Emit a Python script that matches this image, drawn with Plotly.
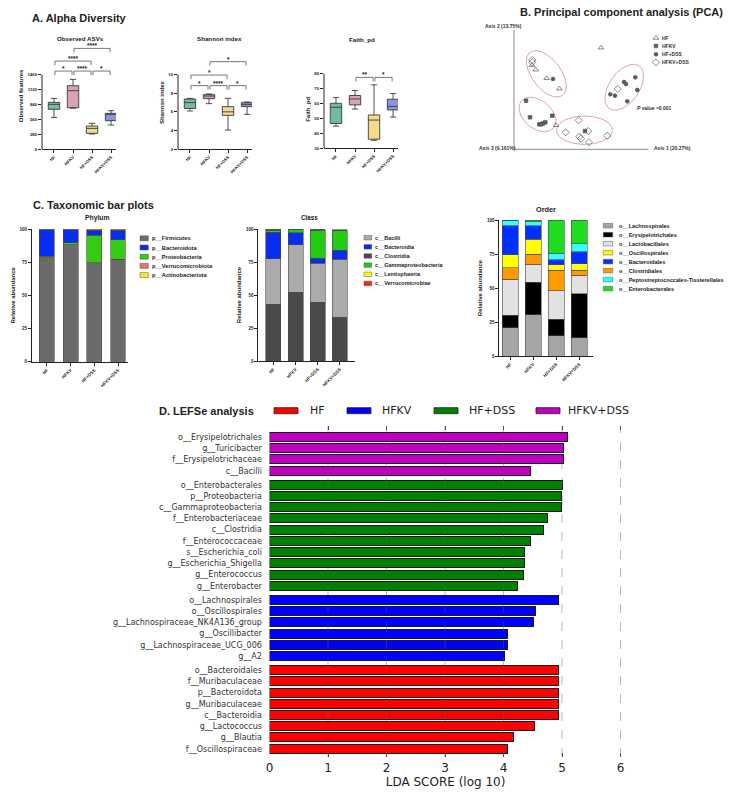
import numpy as np
import plotly.graph_objects as go

W, H = 750, 793
ARIAL = "Liberation Sans"
DEJAVU = "DejaVu Sans"


def fx(p):
    return p / W


def fy(p):
    return 1 - p / H


# ---------------------------------------------------------------- data
groups = ["HF", "HFKV", "HF+DSS", "HFKV+DSS"]

# A. alpha diversity box statistics
observed_min = [596, 770, 283, 452]
observed_q1 = [747, 778, 295, 534]
observed_median = [841, 1099, 389, 659]
observed_q3 = [879, 1193, 433, 672]
observed_max = [954, 1312, 483, 722]

shannon_min = [6.09, 6.88, 4.04, 5.73]
shannon_q1 = [6.36, 7.42, 5.62, 6.56]
shannon_median = [7.0, 7.7, 6.0, 6.8]
shannon_q3 = [7.38, 7.85, 6.56, 6.99]
shannon_max = [7.45, 7.92, 7.45, 7.06]

faith_min = [44.7, 56.2, 35.2, 50.8]
faith_q1 = [46.5, 59.0, 35.9, 55.6]
faith_median = [57.4, 63.0, 48.8, 58.0]
faith_q3 = [60.1, 65.3, 52.2, 62.8]
faith_max = [63.9, 68.7, 72.5, 66.6]

observed_sig_a = ["HF", "HFKV", "HF+DSS", "HF", "HFKV"]
observed_sig_b = ["HFKV", "HF+DSS", "HFKV+DSS", "HF+DSS", "HFKV+DSS"]
observed_sig_label = ["*", "****", "*", "****", "****"]
observed_sig_y = [1469, 1469, 1469, 1657, 1896]

shannon_sig_a = ["HF", "HFKV", "HF+DSS", "HF", "HFKV"]
shannon_sig_b = ["HFKV", "HF+DSS", "HFKV+DSS", "HF+DSS", "HFKV+DSS"]
shannon_sig_label = ["*", "****", "*", "*", "*"]
shannon_sig_y = [8.82, 8.82, 8.82, 9.96, 11.4]

faith_sig_a = ["HFKV", "HF+DSS"]
faith_sig_b = ["HF+DSS", "HFKV+DSS"]
faith_sig_label = ["**", "*"]
faith_sig_y = [77.5, 77.5]

# B. PCA coordinates (axis units)
pca_hf_x = [0.87, 0.18, 0.217, 0.327, 0.453, 0.42]
pca_hf_y = [1.016, 0.84, 0.796, 0.71, 0.606, 0.24]
pca_hfkv_x = [0.12, 0.16, 0.253, 0.273, 0.293, 0.313, 0.383, 0.71]
pca_hfkv_y = [0.486, 0.32, 0.25, 0.25, 0.26, 0.27, 0.336, 0.183]
pca_hfdss_x = [0.39, 0.963, 1.01, 1.10, 1.12, 1.213, 1.233, 1.133]
pca_hfdss_y = [0.703, 0.55, 0.536, 0.673, 0.653, 0.72, 0.593, 0.48]
pca_hfkvdss_x = [0.183, 0.183, 1.037, 0.647, 0.517, 0.653, 0.67, 0.743, 0.75, 0.933]
pca_hfkvdss_y = [0.893, 0.87, 0.603, 0.29, 0.17, 0.126, 0.106, 0.183, 0.07, 0.136]
pca_ellipse_cx = [0.323, 0.235, 0.705, 1.103]
pca_ellipse_cy = [0.755, 0.348, 0.191, 0.621]
pca_ellipse_a = [0.27, 0.21, 0.28, 0.26]
pca_ellipse_b = [0.145, 0.14, 0.142, 0.15]
pca_ellipse_angle = [-53, -40, 0, 55]
pca_axis_labels = ["Axis 1 (20.27%)", "Axis 2 (13.75%)", "Axis 3 (9.161%)"]

# C. taxonomic composition (%)
phylum_names = ["p__Firmicutes", "p__Bacteroidota", "p__Proteobacteria",
                "p__Verrucomicrobiota", "p__Actinobacteriota"]
phylum_firmicutes = [77.5, 88.0, 74.5, 77.0]
phylum_bacteroidota = [20.2, 9.5, 4.0, 7.2]
phylum_proteobacteria = [0.8, 1.5, 20.5, 14.8]
phylum_verrucomicrobiota = [1.0, 0.3, 0.2, 0.2]
phylum_actinobacteriota = [0.5, 0.7, 0.8, 0.8]

class_names = ["c__Bacilli", "c__Bacteroidia", "c__Clostridia",
               "c__Gammaproteobacteria", "c__Lentisphaeria", "c__Verrucomicrobiae"]
class_bacilli = [34.5, 36.0, 29.5, 44.0]
class_bacteroidia = [20.0, 9.0, 4.0, 7.0]
class_clostridia = [43.0, 52.0, 44.5, 33.0]
class_gammaproteobacteria = [1.5, 2.5, 21.0, 15.0]
class_lentisphaeria = [0.3, 0.2, 0.3, 0.2]
class_verrucomicrobiae = [0.7, 0.3, 0.2, 0.2]

order_names = ["o__Lachnospirales", "o__Erysipelotrichales", "o__Lactobacillales",
               "o__Oscillospirales", "o__Bacteroidales", "o__Clostridiales",
               "o__Peptostreptococcales-Tissierellales", "o__Enterobacterales"]
order_lachnospirales = [20.6, 30.4, 15.0, 13.5]
order_erysipelotrichales = [9.3, 23.8, 12.0, 32.3]
order_lactobacillales = [26.7, 13.2, 21.0, 13.5]
order_oscillospirales = [9.3, 11.0, 4.0, 5.0]
order_bacteroidales = [21.5, 9.8, 3.6, 8.5]
order_clostridiales = [8.4, 7.4, 15.0, 3.7]
order_peptostreptococcales = [4.2, 3.2, 4.9, 5.9]
order_enterobacterales = [0.0, 1.2, 24.5, 17.6]

# D. LEfSe
lefse_groups = ["HF", "HFKV", "HF+DSS", "HFKV+DSS"]
lefse_hfkvdss_features = ["o__Erysipelotrichales", "g__Turicibacter",
                          "f__Erysipelotrichaceae", "c__Bacilli"]
lefse_hfkvdss_lda = [5.09, 5.02, 5.02, 4.46]
lefse_hfdss_features = ["o__Enterobacterales", "p__Proteobacteria", "c__Gammaproteobacteria",
                        "f__Enterobacteriaceae", "c__Clostridia", "f__Enterococcaceae",
                        "s__Escherichia_coli", "g__Escherichia_Shigella",
                        "g__Enterococcus", "g__Enterobacter"]
lefse_hfdss_lda = [5.01, 4.99, 4.99, 4.75, 4.68, 4.46, 4.36, 4.36, 4.34, 4.24]
lefse_hfkv_features = ["o__Lachnospirales", "o__Oscillospirales",
                       "g__Lachnospiraceae_NK4A136_group", "g__Oscillibacter",
                       "g__Lachnospiraceae_UCG_006", "g__A2"]
lefse_hfkv_lda = [4.94, 4.54, 4.51, 4.07, 4.06, 4.02]
lefse_hf_features = ["o__Bacteroidales", "f__Muribaculaceae", "p__Bacteroidota",
                     "g__Muribaculaceae", "c__Bacteroidia", "g__Lactococcus",
                     "g__Blautia", "f__Oscillospiraceae"]
lefse_hf_lda = [4.94, 4.94, 4.94, 4.94, 4.94, 4.53, 4.17, 4.07]
lda_ticks = [0, 1, 2, 3, 4, 5, 6]

# ---------------------------------------------------------------- styles
box_fill = ["#73b9a7", "#d9a2b9", "#f2da8c", "#8c96d6"]
phylum_colors = ["#6b6b6b", "#0a2cf0", "#33cc11", "#f07070", "#f5f010"]
class_colors = ["#ababab", "#0a2cf0", "#4a4a4a", "#22cc11", "#ffff00", "#ff2222"]
order_colors = ["#a5a5a5", "#000000", "#e2e2e2", "#ffff00", "#0030ff", "#ff9a00",
                "#33ffff", "#1fdc1f"]
lefse_colors = {"HF": "#ff0000", "HFKV": "#0000ff", "HF+DSS": "#008000", "HFKV+DSS": "#c000c0"}
pca_symbols = ["triangle-up-open", "square", "circle", "diamond-open"]
pca_sizes = [5, 3.6, 3.8, 5.5]
ell_color = "#e3a3a3"
INK = "#222222"

fig = go.Figure()
layout = {}
annotations = []
shapes = []


def note(x, y, s, size, family=ARIAL, bold=True, xanchor="center", yanchor="middle",
         color=INK, angle=0):
    annotations.append(dict(x=fx(x), y=fy(y), xref="paper", yref="paper", text=s,
                            showarrow=False, xanchor=xanchor, yanchor=yanchor, textangle=angle,
                            font=dict(family=family, size=size, color=color,
                                      weight="bold" if bold else "normal")))


def axid(n):
    return "" if n == 1 else str(n)


def tickfont(size=4.3):
    return dict(family=ARIAL, size=size, color=INK, weight="bold")


# ---------------------------------------------------------------- A. box plots
box_panels = [
    dict(n=1, stats=(observed_min, observed_q1, observed_median, observed_q3, observed_max),
         xdom=(42, 116), ydom=(42.9, 149), yrange=(0, 2000),
         ticks=[0, 280, 560, 840, 1120, 1400], title="Observed ASVs", txy=(80, 38.3),
         ytitle="Observed features",
         sig=(observed_sig_a, observed_sig_b, observed_sig_label, observed_sig_y)),
    dict(n=2, stats=(shannon_min, shannon_q1, shannon_median, shannon_q3, shannon_max),
         xdom=(178, 252), ydom=(56.1, 149), yrange=(2, 12),
         ticks=[2, 4, 6, 8, 10], title="Shannon index", txy=(219, 38.3),
         ytitle="Shannon index",
         sig=(shannon_sig_a, shannon_sig_b, shannon_sig_label, shannon_sig_y)),
    dict(n=3, stats=(faith_min, faith_q1, faith_median, faith_q3, faith_max),
         xdom=(324, 398), ydom=(70.7, 148), yrange=(30, 82),
         ticks=[30, 40, 50, 60, 70, 80], title="Faith_pd", txy=(362, 39.5),
         ytitle="Faith_pd",
         sig=(faith_sig_a, faith_sig_b, faith_sig_label, faith_sig_y)),
]

for p in box_panels:
    a = axid(p["n"])
    vmin, q1, med, q3, vmax = p["stats"]
    for i, g in enumerate(groups):
        fig.add_trace(go.Box(x=[g], q1=[q1[i]], median=[med[i]], q3=[q3[i]],
                             lowerfence=[vmin[i]], upperfence=[vmax[i]],
                             fillcolor=box_fill[i], line=dict(color="#3a3a3a", width=0.9),
                             width=0.6, whiskerwidth=0.55, boxpoints=False,
                             xaxis="x" + a, yaxis="y" + a, showlegend=False, hoverinfo="skip"))
    layout["xaxis" + a] = dict(
        domain=[fx(p["xdom"][0]), fx(p["xdom"][1])], anchor="y" + a, type="category",
        categoryorder="array", categoryarray=groups, range=[-0.63, 3.26],
        showline=True, linecolor=INK, linewidth=1, ticks="outside", ticklen=3,
        tickwidth=1, tickcolor=INK, tickangle=-45, tickfont=tickfont(4.3),
        showgrid=False, zeroline=False, automargin=False)
    layout["yaxis" + a] = dict(
        domain=[fy(p["ydom"][1]), fy(p["ydom"][0])], anchor="x" + a,
        range=list(p["yrange"]), tickvals=p["ticks"], showline=False, ticks="outside",
        ticklen=3, tickwidth=1, tickcolor=INK, tickfont=tickfont(4.3),
        title=dict(text=p["ytitle"], font=dict(family=ARIAL, size=6, color=INK, weight="bold"),
                   standoff=3),
        showgrid=False, zeroline=False, automargin=False)
    shapes.append(dict(type="line", xref="x" + a + " domain", yref="y" + a, x0=0, x1=0,
                       y0=p["yrange"][0], y1=p["ticks"][-1], line=dict(color=INK, width=1)))
    note(p["txy"][0], p["txy"][1], p["title"], 6.2)
    # significance brackets
    px_per_unit = (p["ydom"][1] - p["ydom"][0]) / (p["yrange"][1] - p["yrange"][0])
    drop = 4 / px_per_unit
    sa, sb, sl, sy = p["sig"]
    for g1, g2, lab, yv in zip(sa, sb, sl, sy):
        i1, i2 = groups.index(g1), groups.index(g2)
        x0, x1 = i1 + 0.05, i2 - 0.05
        shapes.append(dict(type="path", xref="x" + a, yref="y" + a,
                           path=f"M {x0},{yv - drop} L {x0},{yv} L {x1},{yv} L {x1},{yv - drop}",
                           line=dict(color="#555555", width=0.8)))
        annotations.append(dict(x=(i1 + i2) / 2, y=yv, xref="x" + a, yref="y" + a, text=lab,
                                showarrow=False, yanchor="bottom", yshift=-3,
                                font=dict(family=ARIAL, size=6.5, color=INK, weight="bold")))

note(30, 18, "A. Alpha Diversity", 11, xanchor="left")

# ---------------------------------------------------------------- B. PCA
pca_series = [(pca_hf_x, pca_hf_y), (pca_hfkv_x, pca_hfkv_y),
              (pca_hfdss_x, pca_hfdss_y), (pca_hfkvdss_x, pca_hfkvdss_y)]
t = np.linspace(0, 2 * np.pi, 120)
for cx, cy, ea, eb, ang in zip(pca_ellipse_cx, pca_ellipse_cy, pca_ellipse_a,
                               pca_ellipse_b, pca_ellipse_angle):
    th = np.deg2rad(ang)
    ex = cx + ea * np.cos(t) * np.cos(th) - eb * np.sin(t) * np.sin(th)
    ey = cy + ea * np.cos(t) * np.sin(th) + eb * np.sin(t) * np.cos(th)
    fig.add_trace(go.Scatter(x=ex, y=ey, mode="lines", line=dict(color=ell_color, width=1),
                             xaxis="x4", yaxis="y4", showlegend=False, hoverinfo="skip"))
for (sx, sy), sym, sz in zip(pca_series, pca_symbols, pca_sizes):
    fig.add_trace(go.Scatter(x=sx, y=sy, mode="markers",
                             marker=dict(symbol=sym, size=sz, color="#5a5a5a",
                                         line=dict(width=0.7, color="#5a5a5a")),
                             xaxis="x4", yaxis="y4", showlegend=False, hoverinfo="skip"))
# PCA axes: 1 unit = 100 px, origin at (514, 149.3)
PCA_X0, PCA_Y0 = 514, 149.3
layout["xaxis4"] = dict(domain=[fx(512), fx(700)], anchor="y4",
                        range=[-0.02, (700 - PCA_X0) / 100], visible=False)
layout["yaxis4"] = dict(domain=[fy(151.3), fy(20)], anchor="x4",
                        range=[-0.02, (PCA_Y0 - 20) / 100], visible=False)
shapes.append(dict(type="line", xref="x4", yref="y4", x0=0, x1=0, y0=0,
                   y1=(PCA_Y0 - 30) / 100, line=dict(color="#8a8a8a", width=1)))
shapes.append(dict(type="line", xref="x4", yref="y4", x0=0, x1=(648.3 - PCA_X0) / 100,
                   y0=0, y1=0, line=dict(color="#8a8a8a", width=1)))
# legend
leg_rows = [38, 46, 54.3, 62.3]
for g, sym, sz, ry in zip(groups, pca_symbols, pca_sizes, leg_rows):
    fig.add_trace(go.Scatter(x=[(656 - PCA_X0) / 100], y=[(PCA_Y0 - ry) / 100], mode="markers",
                             marker=dict(symbol=sym, size=sz, color="#5a5a5a",
                                         line=dict(width=0.7, color="#5a5a5a")),
                             xaxis="x4", yaxis="y4", showlegend=False, hoverinfo="skip"))
    note(660, ry, g, 5, xanchor="left", color="#333333")
note(482.7, 26, pca_axis_labels[1], 5, xanchor="left", color="#333333")
note(477, 147.7, pca_axis_labels[2], 5, xanchor="left", color="#333333")
note(651.7, 147.7, pca_axis_labels[0], 5, xanchor="left", color="#333333")
note(635, 108, "<i>P</i> value =0.001", 5, xanchor="left", color="#333333")
note(518, 12, "B. Principal component analysis (PCA)", 11, xanchor="left")

# ---------------------------------------------------------------- C. stacked bars
note(30.7, 204.5, "C. Taxonomic bar plots", 11, xanchor="left")

bar_panels = [
    dict(n=5, series=[phylum_firmicutes, phylum_verrucomicrobiota, phylum_proteobacteria,
                      phylum_bacteroidota, phylum_actinobacteriota],
         colors=[phylum_colors[0], phylum_colors[3], phylum_colors[2], phylum_colors[1],
                 phylum_colors[4]],
         width=0.63, xdom=(32, 127.5), xrange=[-0.63, 3.4], ydom=(229, 361.7),
         title="Phylum", txy=(97.5, 218.3), tsize=6.8,
         legend=(phylum_names, phylum_colors), leg=dict(xs=140, w=8.3, h=5, y0=238.3, dy=9.2,
                                                        xt=150, size=5.7)),
    dict(n=6, series=[class_clostridia, class_bacilli, class_bacteroidia,
                      class_gammaproteobacteria, class_lentisphaeria, class_verrucomicrobiae],
         colors=[class_colors[2], class_colors[0], class_colors[1], class_colors[3],
                 class_colors[4], class_colors[5]],
         width=0.68, xdom=(258.3, 355), xrange=[-0.68, 3.68], ydom=(229, 361),
         title="Class", txy=(309.5, 217.7), tsize=6.3,
         legend=(class_names, class_colors), leg=dict(xs=364, w=7.7, h=4.5, y0=237.7, dy=9.15,
                                                      xt=373.3, size=5.5)),
    dict(n=7, series=[order_lachnospirales, order_erysipelotrichales, order_lactobacillales,
                      order_clostridiales, order_oscillospirales, order_bacteroidales,
                      order_peptostreptococcales, order_enterobacterales],
         colors=[order_colors[0], order_colors[1], order_colors[2], order_colors[5],
                 order_colors[3], order_colors[4], order_colors[6], order_colors[7]],
         width=0.7, xdom=(499.3, 593), xrange=[-0.47, 3.6], ydom=(220, 356),
         title="Order", txy=(545.5, 209), tsize=7.3,
         legend=(order_names, order_colors), leg=dict(xs=603.3, w=9.4, h=4.6, y0=225.7,
                                                      dy=8.98, xt=616.7, size=5.6)),
]

for p in bar_panels:
    a = axid(p["n"])
    for vals, col in zip(p["series"], p["colors"]):
        fig.add_trace(go.Bar(x=groups, y=vals, width=p["width"],
                             marker=dict(color=col, line=dict(color="#4a4a4a", width=0.6)),
                             xaxis="x" + a, yaxis="y" + a, showlegend=False, hoverinfo="skip"))
    layout["xaxis" + a] = dict(
        domain=[fx(p["xdom"][0]), fx(p["xdom"][1])], anchor="y" + a, type="category",
        categoryorder="array", categoryarray=groups, range=p["xrange"],
        showline=True, linecolor=INK, linewidth=1, ticks="outside", ticklen=3,
        tickwidth=1, tickcolor=INK, tickangle=-45, tickfont=tickfont(4.5),
        showgrid=False, zeroline=False, automargin=False)
    layout["yaxis" + a] = dict(
        domain=[fy(p["ydom"][1]), fy(p["ydom"][0])], anchor="x" + a,
        range=[0, 100], tickvals=[0, 25, 50, 75, 100], showline=True, linecolor=INK,
        linewidth=1, ticks="outside", ticklen=3, tickwidth=1, tickcolor=INK,
        tickfont=tickfont(4.5),
        title=dict(text="Relative abundance",
                   font=dict(family=ARIAL, size=6, color=INK, weight="bold"), standoff=3),
        showgrid=False, zeroline=False, automargin=False)
    note(p["txy"][0], p["txy"][1], p["title"], p["tsize"])
    names, cols = p["legend"]
    L = p["leg"]
    for k, (nm, col) in enumerate(zip(names, cols)):
        yc = L["y0"] + k * L["dy"]
        shapes.append(dict(type="rect", xref="paper", yref="paper",
                           x0=fx(L["xs"]), x1=fx(L["xs"] + L["w"]),
                           y0=fy(yc + L["h"] / 2), y1=fy(yc - L["h"] / 2),
                           fillcolor=col, line=dict(color="#555555", width=0.5)))
        note(L["xt"], yc, nm, L["size"], xanchor="left")

# ---------------------------------------------------------------- D. LEfSe
lefse_blocks = [("HFKV+DSS", lefse_hfkvdss_features, lefse_hfkvdss_lda),
                ("HF+DSS", lefse_hfdss_features, lefse_hfdss_lda),
                ("HFKV", lefse_hfkv_features, lefse_hfkv_lda),
                ("HF", lefse_hf_features, lefse_hf_lda)]
GAP = 0.25
start = 0.0
tick_pos, tick_txt = [], []
for grp, feats, ldas in lefse_blocks:
    ys = [start + j for j in range(len(feats))]
    fig.add_trace(go.Bar(x=ldas, y=ys, orientation="h", width=0.8,
                         marker=dict(color=lefse_colors[grp], line=dict(color="#1a1a1a", width=1)),
                         xaxis="x8", yaxis="y8", showlegend=False, hoverinfo="skip"))
    tick_pos += ys
    tick_txt += feats
    start += len(feats) + GAP
last = tick_pos[-1]

layout["xaxis8"] = dict(domain=[fx(269.5), fx(621.7)], anchor="y8", range=[0, 6.02],
                        tickvals=lda_ticks, showline=True, linecolor="rgba(0,0,0,0)",
                        mirror="ticks", ticks="inside", ticklen=4, tickwidth=1,
                        tickcolor="#444444",
                        tickfont=dict(family=DEJAVU, size=12, color=INK),
                        title=dict(text="LDA SCORE (log 10)",
                                   font=dict(family=DEJAVU, size=12, color=INK), standoff=2),
                        showgrid=False, zeroline=False, automargin=False)
layout["yaxis8"] = dict(domain=[fy(757), fy(426)], anchor="x8",
                        range=[last + 0.74, -0.98], tickvals=tick_pos, ticktext=tick_txt,
                        ticks="outside", ticklen=5, tickcolor="rgba(0,0,0,0)",
                        tickfont=dict(family=DEJAVU, size=8, color="#333333"),
                        showline=False, showgrid=False, zeroline=False, automargin=False)
for v in lda_ticks[1:]:
    shapes.append(dict(type="line", xref="x8", yref="y8 domain", x0=v, x1=v, y0=0, y1=1,
                       layer="above", line=dict(color="rgba(90,90,90,0.55)", width=0.8,
                                                dash="dash")))

note(157, 410.7, "D. LEFSe analysis", 11, xanchor="left")
leg_rect_x = [274, 347, 434, 536]
leg_text_x = [308, 380, 467, 566]
for g, rx, tx in zip(lefse_groups, leg_rect_x, leg_text_x):
    shapes.append(dict(type="rect", xref="paper", yref="paper", x0=fx(rx), x1=fx(rx + 24),
                       y0=fy(413.7), y1=fy(407.7), fillcolor=lefse_colors[g],
                       line=dict(color="#222222", width=0.8)))
    note(tx, 410.7, g, 11, family=DEJAVU, bold=False, xanchor="left")

# ---------------------------------------------------------------- layout
fig.update_layout(width=W, height=H, margin=dict(l=0, r=0, t=0, b=0),
                  paper_bgcolor="white", plot_bgcolor="white", showlegend=False,
                  barmode="stack", boxmode="overlay", annotations=annotations, shapes=shapes,
                  hovermode=False, **layout)
fig.write_html("out.html", config={"displayModeBar": False, "staticPlot": True},
               post_script="document.body.style.margin='0px';"
                           "document.body.style.overflow='hidden';")
